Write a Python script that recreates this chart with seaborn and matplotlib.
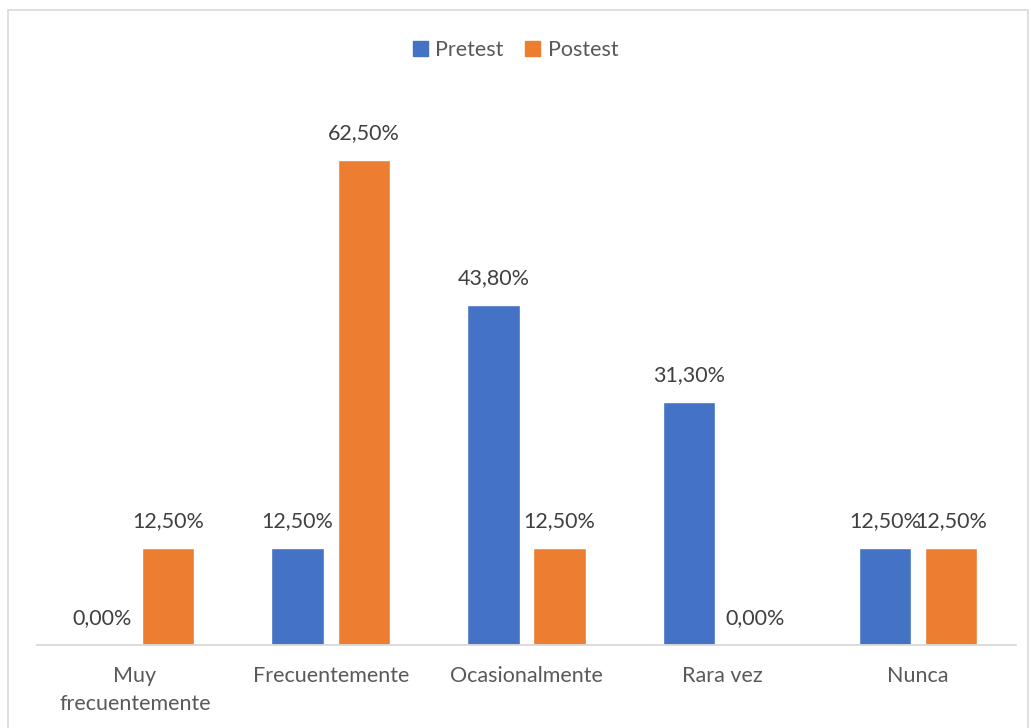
import matplotlib
matplotlib.use("Agg")
import matplotlib.pyplot as plt
import seaborn as sns
import pandas as pd
from matplotlib.patches import Rectangle

categories = ["Muy\nfrecuentemente", "Frecuentemente", "Ocasionalmente", "Rara vez", "Nunca"]
pretest = [0.0, 12.5, 43.8, 31.3, 12.5]
postest = [12.5, 62.5, 12.5, 0.0, 12.5]
series_names = ["Pretest", "Postest"]
colors = ["#4472C4", "#ED7D31"]

df = pd.DataFrame({
    "categoria": categories * 2,
    "valor": pretest + postest,
    "grupo": [series_names[0]] * len(categories) + [series_names[1]] * len(categories),
})

sns.set_theme(style="white")
plt.rcParams["font.family"] = ["Lato", "DejaVu Sans"]
text_color = "#595959"

fig = plt.figure(figsize=(10.31, 7.28), dpi=100)
ax = fig.add_axes([37 / 1031, 83 / 728, 979 / 1031, 0.746])

sns.barplot(data=df, x="categoria", y="valor", hue="grupo", palette=colors,
            width=0.676, gap=0.21, ax=ax, saturation=1, legend=False)

for cont in ax.containers:
    labels = [f"{b.get_height():.2f}%".replace(".", ",") for b in cont]
    ax.bar_label(cont, labels=labels, padding=12, fontsize=15.5, color="#404040")

ax.set_ylim(0, 70)
ax.set_xlim(-0.5, len(categories) - 0.5)
ax.set_xlabel("")
ax.set_ylabel("")
ax.set_yticks([])
for side in ["top", "right", "left"]:
    ax.spines[side].set_visible(False)
ax.spines["bottom"].set_color("#D9D9D9")
ax.spines["bottom"].set_linewidth(1.3)
ax.tick_params(axis="x", length=0, pad=15, labelsize=15.5, labelcolor=text_color)
for lbl in ax.get_xticklabels():
    lbl.set_linespacing(1.5)

handles = [Rectangle((0, 0), 1, 1, color=c) for c in colors]
fig.legend(handles, series_names, loc="center", bbox_to_anchor=(0.5, 1 - 50 / 728),
           ncol=2, frameon=False, fontsize=15.5, labelcolor=text_color,
           handlelength=0.7, handleheight=0.7, handletextpad=0.35, columnspacing=1.0)

# light frame around the chart area
fig.patches.append(Rectangle((8 / 1031, -0.01), 1020 / 1031, 1 - 10 / 728 + 0.01,
                             transform=fig.transFigure, fill=False,
                             edgecolor="#D9D9D9", linewidth=1.2))

fig.savefig("out.png", dpi=100)
